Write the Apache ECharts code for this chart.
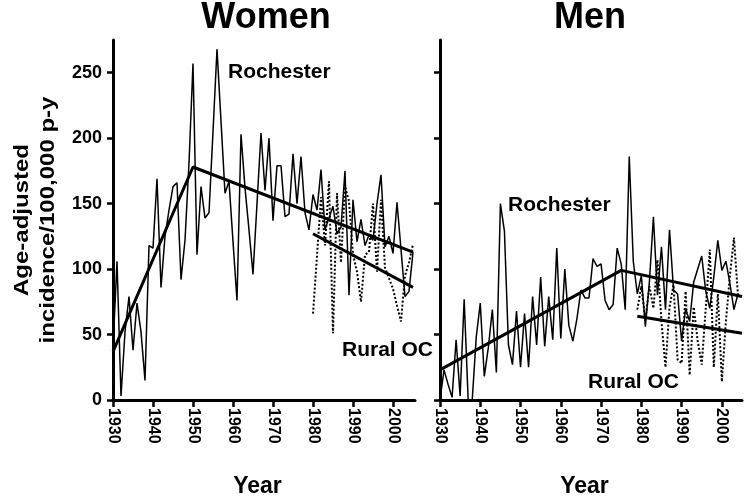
<!DOCTYPE html>
<html><head><meta charset="utf-8">
<script src="https://cdn.jsdelivr.net/npm/echarts@6/dist/echarts.min.js"></script>
<style>html,body{margin:0;padding:0;background:#fff}#c{width:747px;height:501px}</style>
</head><body><div id="c"></div>
<script>
const yearTicks = [1930,1940,1950,1960,1970,1980,1990,2000];
const yTicks = [0,50,100,150,200,250];

const womenRochStart = 1930;
const womenRochester = [40,106,3,52,79,38,74,52,15,118,116,169,86,125,145,163,166,92,122,181,
  257,111,163,139,143,205,268,213,158,167,121,76,203,162,130,96,150,204,160,200,
  137,179,179,140,142,188,150,186,143,130,157,145,176,130,139,148,127,132,175,80,
  153,121,138,118,126,122,150,172,117,125,112,151,115,79,83,113];
const womenRuralStart = 1980;
const womenRural = [66,110,155,118,167,51,158,105,163,152,111,98,75,111,113,150,98,153,101,93,85,72,60,95,105,119];
const womenRochTrend = [[1930,37],[1950,178],[2005,113]];
const womenRuralTrend = [[1980,127],[2005,86]];

const menRochStart = 1930;
const menRochester = [0,23,12,2,46,3,77,0,0,48,74,18,40,69,21,150,129,42,27,68,
  25,66,25,79,42,94,41,79,46,116,47,100,57,45,62,84,78,78,108,102,
  104,76,69,73,116,104,69,186,106,81,95,56,90,140,80,117,69,130,84,81,
  45,70,60,90,100,110,83,70,94,122,99,106,89,69,81];
const menRuralStart = 1979;
const menRural = [69,87,61,87,70,107,60,25,71,88,31,28,83,19,71,45,27,70,115,25,81,14,60,95,124,80];
const menRochTrend = [[1930,23],[1975,99],[2005,79]];
const menRuralTrend = [[1979,64],[2005,51]];

const FONT = 'Liberation Sans, Arial, sans-serif';
const pairs = (start, arr) => arr.map((v, i) => [start + i, v]);

function xAx(gi, max) {
  return {
    gridIndex: gi, type: 'value', min: 1930, max: max,
    axisLine: {show: true, onZero: false, lineStyle: {color: '#000', width: 3}},
    axisTick: {show: true, customValues: yearTicks, length: 7, lineStyle: {color: '#000', width: 2.5}},
    axisLabel: {customValues: yearTicks, rotate: -90, margin: 8, color: '#000',
      formatter: v => String(v),
      fontFamily: FONT, fontWeight: 'bold', fontSize: 16},
    splitLine: {show: false},
    name: 'Year', nameLocation: 'middle', nameGap: 75,
    nameTextStyle: {color: '#000', fontFamily: FONT, fontWeight: 'bold', fontSize: 23,
      padding: [0, 13, 0, 0]}
  };
}
function yAx(gi, showLabels) {
  return {
    gridIndex: gi, type: 'value', min: 0, max: 275,
    axisLine: {show: true, lineStyle: {color: '#000', width: 3}},
    axisTick: {show: true, customValues: yTicks, length: 6, lineStyle: {color: '#000', width: 2.5}},
    axisLabel: {show: showLabels, customValues: yTicks, margin: 11, color: '#000',
      fontFamily: FONT, fontWeight: 'bold', fontSize: 18},
    splitLine: {show: false}
  };
}
function ln(gi, data, width, type) {
  return {type: 'line', xAxisIndex: gi, yAxisIndex: gi, data: data, symbol: 'none',
    silent: true, animation: false,
    lineStyle: {color: '#000', width: width, type: type || 'solid'}};
}

const chart = echarts.init(document.getElementById('c'), null, {renderer: 'canvas'});
const txt = (text, x, y, size, align) => ({type: 'text', x: x, y: y,
  style: {text: text, fill: '#000', font: 'bold ' + size + 'px ' + FONT,
    textAlign: align || 'left', textVerticalAlign: 'middle'}});

chart.setOption({
  animation: false,
  backgroundColor: '#fff',
  grid: [
    {left: 113, top: 40, width: 302, height: 360, containLabel: false, outerBoundsMode: 'none'},
    {left: 440, top: 40, width: 302, height: 360, containLabel: false, outerBoundsMode: 'none'}
  ],
  xAxis: [xAx(0, 2005.5), xAx(1, 2005)],
  yAxis: [yAx(0, true), yAx(1, false)],
  series: [
    ln(0, pairs(womenRochStart, womenRochester), 1.5),
    ln(0, pairs(womenRuralStart, womenRural), 2, 'dotted'),
    ln(0, womenRochTrend, 3),
    ln(0, womenRuralTrend, 3),
    ln(1, pairs(menRochStart, menRochester), 1.5),
    ln(1, pairs(menRuralStart, menRural), 2, 'dotted'),
    ln(1, menRochTrend, 3),
    ln(1, menRuralTrend, 3)
  ],
  graphic: [
    txt('Women', 266, 18, 36, 'center'),
    txt('Men', 590, 18, 36, 'center'),
    {type: 'text', x: 35, y: 220, rotation: Math.PI / 2, scaleY: 0.88,
      style: {text: 'Age-adjusted\nincidence/100,000 p-y', fill: '#000',
        font: 'bold 24px ' + FONT, textAlign: 'center', textVerticalAlign: 'middle', lineHeight: 29}},
    txt('Rochester', 228, 72, 21),
    txt('Rural OC', 342, 350, 21),
    txt('Rochester', 508, 205, 21),
    txt('Rural OC', 588, 382, 21)
  ]
});
</script></body></html>
